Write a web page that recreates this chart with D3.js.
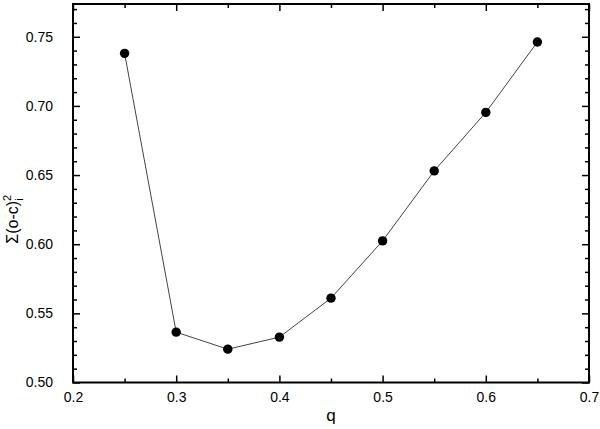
<!DOCTYPE html>
<html><head><meta charset="utf-8">
<script src="https://cdn.jsdelivr.net/npm/d3@7"></script>
<style>body{margin:0;background:#fff}svg{display:block}text{font-family:"Liberation Sans",Arial,sans-serif}</style>
</head><body>
<svg id="c" width="600" height="429"></svg>
<script>
const qValues = [0.25, 0.30, 0.35, 0.40, 0.45, 0.50, 0.55, 0.60, 0.65];
const sumValues = [0.738, 0.5364, 0.5241, 0.5328, 0.5610, 0.6024, 0.6530, 0.6953, 0.7462];
const xTickLabels = [0.2, 0.3, 0.4, 0.5, 0.6, 0.7];
const yTickLabels = [0.50, 0.55, 0.60, 0.65, 0.70, 0.75];

const svg = d3.select("#c");
const L = 73, R = 589, T = 4, B = 382.5;
const x = d3.scaleLinear().domain([0.2, 0.7]).range([L, R]);
const y = d3.scaleLinear().domain([0.5, 0.7737]).range([B, T]);

const xMinor = d3.range(0.25, 0.7, 0.1);
const yMinor = d3.range(0.5, 0.7735, 0.01).filter(v => Math.abs(Math.round(v*100) % 5) !== 0);

function ax(gen, tr, vals, size, fmt) {
  const g = svg.append("g").attr("transform", tr)
    .call(gen.tickValues(vals).tickSizeInner(size).tickSizeOuter(0).tickPadding(6).tickFormat(fmt));
  g.select(".domain").remove();
  g.selectAll("line").attr("stroke", "#000").attr("stroke-width", 1.5);
  g.selectAll("text").attr("font-size", 14).attr("fill", "#000");
  return g;
}
// bottom
ax(d3.axisBottom(x), `translate(0,${B})`, xTickLabels, -7, d3.format(".1f")).selectAll("text").attr("transform","translate(0,4)");
ax(d3.axisBottom(x), `translate(0,${B})`, xMinor, -4, () => "");
// top
ax(d3.axisTop(x), `translate(0,${T})`, xTickLabels, -7, () => "");
ax(d3.axisTop(x), `translate(0,${T})`, xMinor, -4, () => "");
// left
ax(d3.axisLeft(y), `translate(${L},0)`, yTickLabels, -7, d3.format(".2f")).selectAll("text").attr("transform","translate(-14,0)");
ax(d3.axisLeft(y), `translate(${L},0)`, yMinor, -4, () => "");
// right
ax(d3.axisRight(y), `translate(${R},0)`, yTickLabels, -7, () => "");
ax(d3.axisRight(y), `translate(${R},0)`, yMinor, -4, () => "");

svg.append("rect").attr("x", L).attr("y", T).attr("width", R - L).attr("height", B - T)
  .attr("fill", "none").attr("stroke", "#000").attr("stroke-width", 2);

const pts = qValues.map((q, i) => [q, sumValues[i]]);
svg.append("path").datum(pts)
  .attr("d", d3.line().x(d => x(d[0])).y(d => y(d[1])))
  .attr("fill", "none").attr("stroke", "#444").attr("stroke-width", 1);
svg.selectAll("circle.p").data(pts).enter().append("circle")
  .attr("cx", d => x(d[0])).attr("cy", d => y(d[1])).attr("r", 4.7).attr("fill", "#000");

svg.append("text").attr("x", (L + R) / 2).attr("y", 421).attr("text-anchor", "middle")
  .attr("font-size", 17).text("q");

const yl = svg.append("text").attr("transform", `translate(18,${(T+B)/2 + 26}) rotate(-90)`)
  .attr("text-anchor", "middle").attr("font-size", 16);
yl.append("tspan").text("Σ(o-c)");
yl.append("tspan").attr("font-size", 11).attr("dy", -7).text("2");
yl.append("tspan").attr("font-size", 11).attr("dx", -6).attr("dy", 12).text("i");
</script>
</body></html>
